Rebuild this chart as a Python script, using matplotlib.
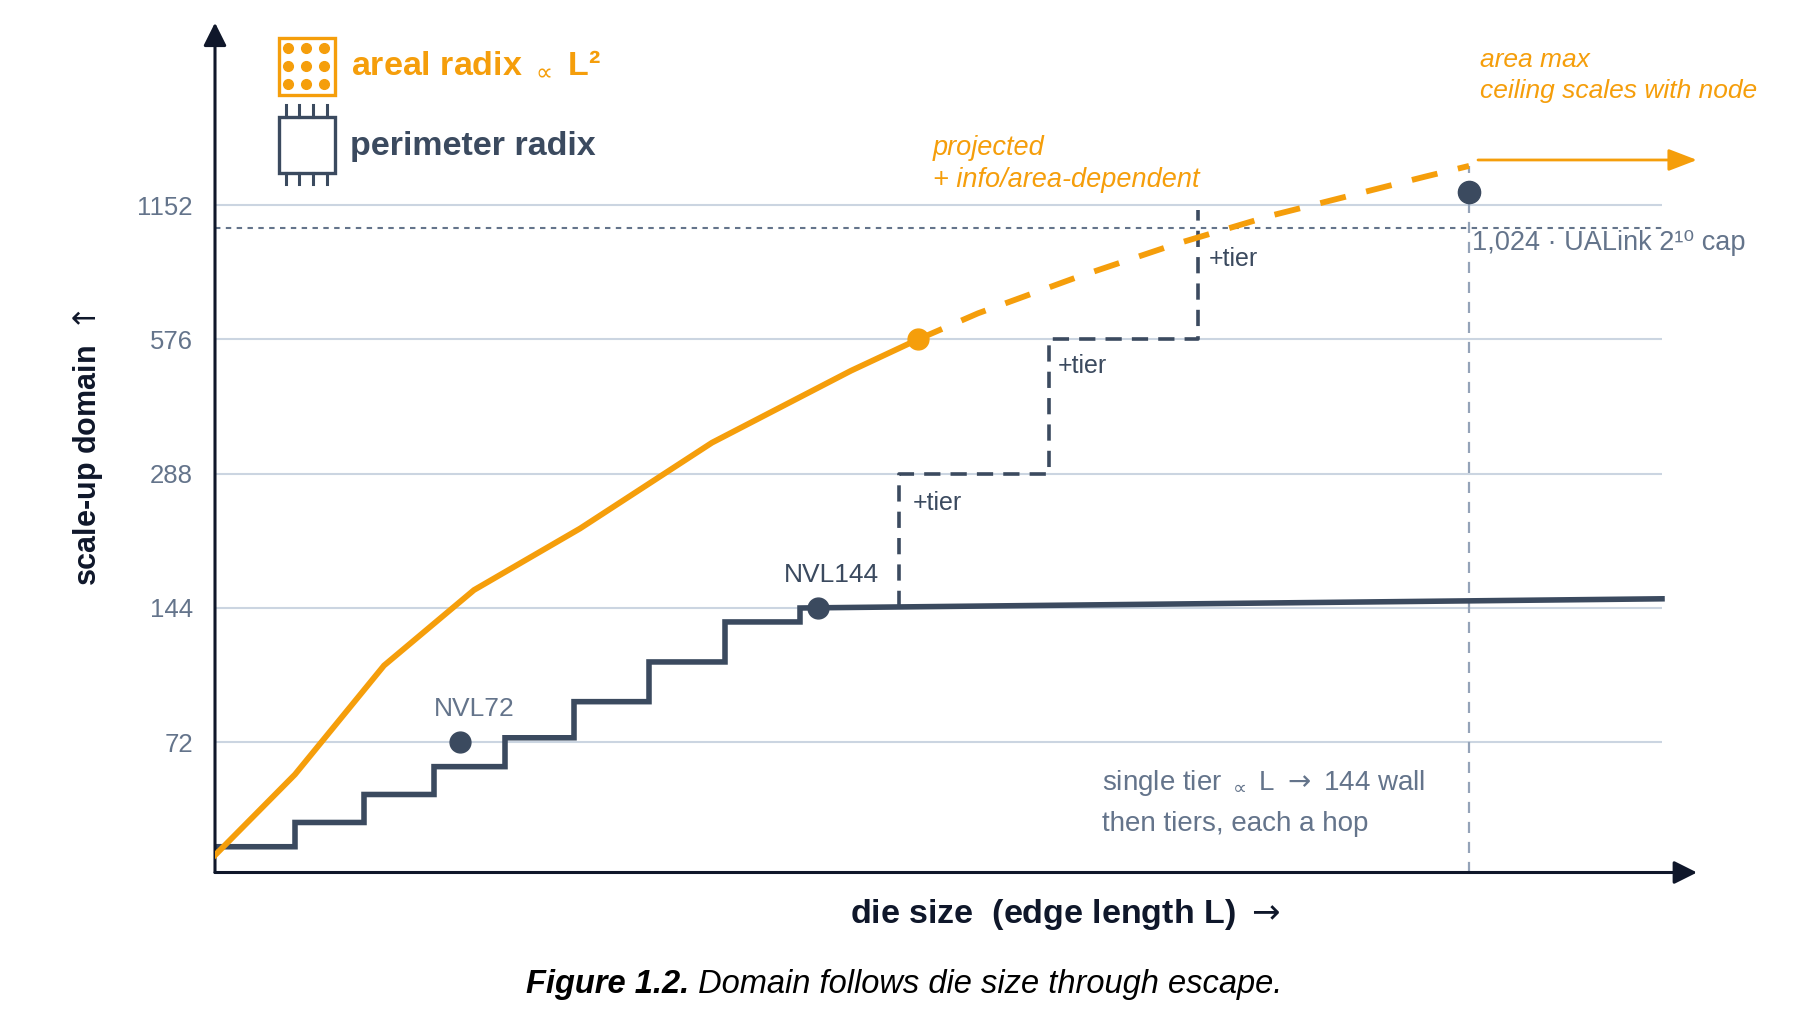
import numpy as np
import matplotlib.pyplot as plt
from matplotlib.patches import Rectangle

plt.rcParams['font.family'] = ['Liberation Sans', 'DejaVu Sans']
plt.rcParams['mathtext.fontset'] = 'dejavusans'

ORANGE = '#f59e0b'
SLATE = '#3b4a5f'
MUTED = '#64748b'
GRID = '#cbd5e1'
INK = '#0f172a'

# y ticks (log2 domain sizes)
TICKS = [72, 144, 288, 576, 1152]
TICK_LABELS = ['72', '144', '288', '576', '1152']
UALINK_CAP = 1024

# perimeter radix: staircase then the 144 wall
perim_x = [0, 0.80, 1.49, 2.19, 2.90, 3.59, 4.34, 5.10, 5.85]
perim_y = [42, 47.6, 55, 63.5, 73.7, 88.8, 109, 134, 144]
wall_x = [5.85, 14.47]
wall_y = [144, 151]

# areal radix, measured part and projection
areal_x = [0, 0.80, 1.69, 2.59, 3.65, 4.97, 6.36, 7.03]
areal_y = [40.2, 61, 107, 158, 217, 338, 490, 576]
proj_x = [7.03, 7.63, 8.62, 9.60, 10.58, 12.10, 12.54]
proj_y = [576, 659, 794, 941, 1094, 1334, 1410]

# tier hops on top of the wall
tier_x = [6.84, 6.84, 8.34, 8.34, 9.83, 9.83]
tier_y = [144.8, 288, 288, 576, 576, 1125]

nvl72 = (2.45, 72)
nvl144 = (6.03, 144)
area_max = (12.54, 1230)
ceiling_y = 1454
X_END = 14.82
GRID_END = 14.47

PROP = r'${}_{\propto}$'
RARR = r'$\;\rightarrow\;$'

fig = plt.figure(figsize=(18, 10.3), dpi=100)
ax = fig.add_axes([215 / 1800, (1030 - 872.5) / 1030, (1697 - 215) / 1800, (872.5 - 22.7) / 1030])
ax.set_yscale('log', base=2)
ax.set_xlim(0, X_END)
ax.set_ylim(36.77, 2953)
for s in ax.spines.values():
    s.set_visible(False)
ax.set_xticks([])
ax.set_yticks(TICKS)
ax.set_yticklabels(TICK_LABELS)
ax.minorticks_off()
ax.tick_params(axis='y', length=0, pad=16, labelsize=18.5, labelcolor=MUTED)

ax.hlines(TICKS, 0, GRID_END, color=GRID, lw=1.5, zorder=0)
ax.hlines(UALINK_CAP, 0, GRID_END, color=MUTED, lw=1.5, linestyle=(0, (2.6, 2.6)), zorder=1)
ax.plot([area_max[0], area_max[0]], [36.77, proj_y[-1]], color='#94a3b8', lw=1.6,
        linestyle=(0, (5, 4)), zorder=1)

# perimeter staircase + wall as one path
sx = np.repeat(perim_x, 2)[1:]
sy = np.repeat(perim_y, 2)[:-1]
px = np.concatenate([sx, wall_x[1:]])
py = np.concatenate([sy, wall_y[1:]])
ax.plot(px, py, color=SLATE, lw=4.0, solid_joinstyle='miter', zorder=3)
ax.plot(tier_x, tier_y, color=SLATE, lw=2.6, linestyle=(0, (4.5, 2.8)), zorder=3)

ax.plot(areal_x, areal_y, color=ORANGE, lw=4.2, solid_joinstyle='round', zorder=4)
ax.plot(proj_x, proj_y, color=ORANGE, lw=4.2, linestyle=(0, (4.5, 3.6)), zorder=4)

ax.plot(*nvl72, 'o', color=SLATE, ms=15, zorder=5)
ax.plot(*nvl144, 'o', color=SLATE, ms=15, zorder=5)
ax.plot(areal_x[-1], areal_y[-1], 'o', color=ORANGE, ms=15, zorder=5)
ax.plot(*area_max, 'o', color=SLATE, ms=16, zorder=5)

ax.annotate('', xy=(X_END, ceiling_y), xytext=(12.63, ceiling_y),
            arrowprops=dict(arrowstyle='-|>,head_length=1.25,head_width=0.48', mutation_scale=14,
                            lw=2, color=ORANGE, shrinkA=0, shrinkB=0))

# axes with arrows
arrow = dict(arrowstyle='-|>,head_length=1.0,head_width=0.5', mutation_scale=14,
             lw=2.2, color=INK, shrinkA=0, shrinkB=0)
ax.annotate('', xy=(1, 0), xytext=(0, 0), xycoords='axes fraction', arrowprops=arrow)
ax.annotate('', xy=(0, 1), xytext=(0, 0), xycoords='axes fraction', arrowprops=arrow)

# overlay in pixel coordinates for legend and notes
ov = fig.add_axes([0, 0, 1, 1])
ov.set_xlim(0, 1800)
ov.set_ylim(1030, 0)
ov.axis('off')
ov.patch.set_alpha(0)

ov.add_patch(Rectangle((279, 38), 56, 57, fill=False, ec=ORANGE, lw=2.4))
for dx in (288.3, 306, 324.3):
    for dy in (47.7, 66, 84.3):
        ov.plot(dx, dy, 'o', color=ORANGE, ms=7)
ov.add_patch(Rectangle((279, 117), 56, 56, fill=False, ec=SLATE, lw=2.4))
for pin in (286, 299.3, 313.3, 327.3):
    ov.plot([pin, pin], [105, 117], color=SLATE, lw=2.2)
    ov.plot([pin, pin], [173, 184], color=SLATE, lw=2.2)
ov.text(351, 73, 'areal radix ' + PROP + ' L²', color=ORANGE, fontsize=24.5, fontweight='bold',
        va='baseline')
ov.text(350, 147, 'perimeter radix', color=SLATE, fontsize=24.5, fontweight='bold', va='center')

ov.text(933, 155, 'projected', color=ORANGE, fontsize=19.5, style='italic', va='baseline')
ov.text(933, 187, '+ info/area-dependent', color=ORANGE, fontsize=19.5, style='italic', va='baseline')
ov.text(1480, 67, 'area max', color=ORANGE, fontsize=19, style='italic', va='baseline')
ov.text(1480, 98, 'ceiling scales with node', color=ORANGE, fontsize=19, style='italic', va='baseline')
ov.text(1472, 250, '1,024 · UALink 2¹⁰ cap', color=MUTED, fontsize=19.5, va='baseline')

for tx, ty in ((913, 510), (1058, 373), (1209, 266)):
    ov.text(tx, ty, '+tier', color=SLATE, fontsize=18, va='baseline')

ov.text(474, 716, 'NVL72', color=MUTED, fontsize=19, ha='center', va='baseline')
ov.text(831, 582, 'NVL144', color=SLATE, fontsize=19, ha='center', va='baseline')

ov.text(1102, 790, 'single tier ' + PROP + ' L' + RARR + '144 wall', color=MUTED, fontsize=20,
        va='baseline')
ov.text(1102, 831, 'then tiers, each a hop', color=MUTED, fontsize=20, va='baseline')

ov.text(1065, 923, 'die size  (edge length L)' + RARR, color=INK, fontsize=24.5, fontweight='bold',
        ha='center', va='baseline')
ov.text(88, 448, r'scale-up domain $\uparrow$', color=INK, fontsize=22, fontweight='bold',
        rotation=90, ha='center', va='center')

# caption: bold-italic lead + italic rest, centred as a whole
renderer = fig.canvas.get_renderer()
t1 = ov.text(0, 993, 'Figure 1.2.', color='black', fontsize=23.5, fontweight='bold',
             style='italic', va='baseline')
t2 = ov.text(0, 993, ' Domain follows die size through escape.', color='black', fontsize=23.5,
             style='italic', va='baseline')
w1 = t1.get_window_extent(renderer).width
w2 = t2.get_window_extent(renderer).width
x0 = 904 - (w1 + w2) / 2
t1.set_x(x0)
t2.set_x(x0 + w1)

fig.savefig('out.png', dpi=100)
